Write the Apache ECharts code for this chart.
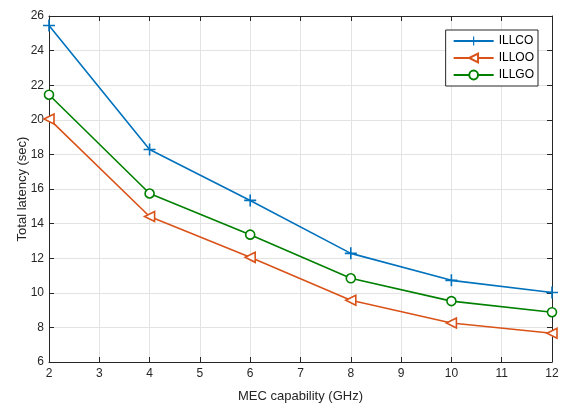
<!DOCTYPE html>
<html>
<head>
<meta charset="utf-8">
<script src="https://cdn.jsdelivr.net/npm/echarts@6/dist/echarts.min.js"></script>
<style>html,body{margin:0;padding:0;background:#fff}#c{width:564px;height:408px}</style>
</head>
<body>
<div id="c"></div>
<script>
const xValues = [2, 4, 6, 8, 10, 12];
const illco = [25.45, 18.28, 15.34, 12.28, 10.72, 10.02];
const illoo = [20.05, 14.41, 12.05, 9.57, 8.25, 7.66];
const illgo = [21.45, 15.74, 13.36, 10.84, 9.52, 8.88];
const seriesNames = ['ILLCO', 'ILLOO', 'ILLGO'];
const xAxisName = 'MEC capability (GHz)';
const yAxisName = 'Total latency (sec)';

const FONT = '"Liberation Sans", Arial, sans-serif';
const AX = '#262626';
const plus = 'path://M5.2,0H6.8V5.2H12V6.8H6.8V12H5.2V6.8H0V5.2H5.2Z';

function pairs(arr) { return xValues.map((x, i) => [x, arr[i]]); }

const chart = echarts.init(document.getElementById('c'), null, {renderer: 'canvas'});
const axisCommon = {
  axisLine: {show: true, onZero: false, lineStyle: {color: AX, width: 1}},
  axisTick: {show: true, inside: true, length: 5, lineStyle: {color: AX}},
};
chart.setOption({
  animation: false,
  backgroundColor: '#fff',
  grid: {left: 49, right: 12, top: 16, bottom: 45, containLabel: false},
  legend: {
    orient: 'vertical', right: 26, top: 30,
    backgroundColor: '#fff', borderColor: AX, borderWidth: 1,
    padding: [5, 4, 5, 7], itemGap: 5, itemWidth: 40, itemHeight: 11,
    textStyle: {fontFamily: FONT, fontSize: 12, color: '#000'},
    data: seriesNames
  },
  xAxis: [{
    type: 'value', min: 2, max: 12, interval: 1,
    name: xAxisName, nameLocation: 'middle', nameGap: 28, nameMoveOverlap: false,
    nameTextStyle: {fontFamily: FONT, fontSize: 13, color: AX},
    axisLabel: {fontFamily: FONT, fontSize: 12, color: AX, margin: 6},
    splitLine: {show: true, lineStyle: {color: '#e3e3e3', width: 1}},
    ...axisCommon
  }, {
    type: 'value', min: 2, max: 12, interval: 1, position: 'top',
    axisLabel: {show: false}, splitLine: {show: false}, ...axisCommon
  }],
  yAxis: [{
    type: 'value', min: 6, max: 26, interval: 2,
    name: yAxisName, nameLocation: 'middle', nameGap: 20, nameMoveOverlap: false,
    nameTextStyle: {fontFamily: FONT, fontSize: 13, color: AX},
    axisLabel: {fontFamily: FONT, fontSize: 12, color: AX, margin: 5},
    splitLine: {show: true, lineStyle: {color: '#e3e3e3', width: 1}},
    ...axisCommon
  }, {
    type: 'value', min: 6, max: 26, interval: 2, position: 'right',
    axisLabel: {show: false}, splitLine: {show: false}, ...axisCommon
  }],
  series: [{
    name: seriesNames[0], type: 'line', data: pairs(illco),
    symbol: plus, symbolSize: 12,
    lineStyle: {color: '#0072BD', width: 1.6},
    itemStyle: {color: '#0072BD', borderWidth: 0}
  }, {
    name: seriesNames[1], type: 'line', data: pairs(illoo),
    symbol: 'triangle', symbolRotate: 90, symbolSize: 10,
    lineStyle: {color: '#D95319', width: 1.6},
    itemStyle: {color: '#fff', borderColor: '#D95319', borderWidth: 1.6}
  }, {
    name: seriesNames[2], type: 'line', data: pairs(illgo),
    symbol: 'circle', symbolSize: 9,
    lineStyle: {color: '#008000', width: 1.6},
    itemStyle: {color: '#fff', borderColor: '#008000', borderWidth: 1.6}
  }]
});
</script>
</body>
</html>
